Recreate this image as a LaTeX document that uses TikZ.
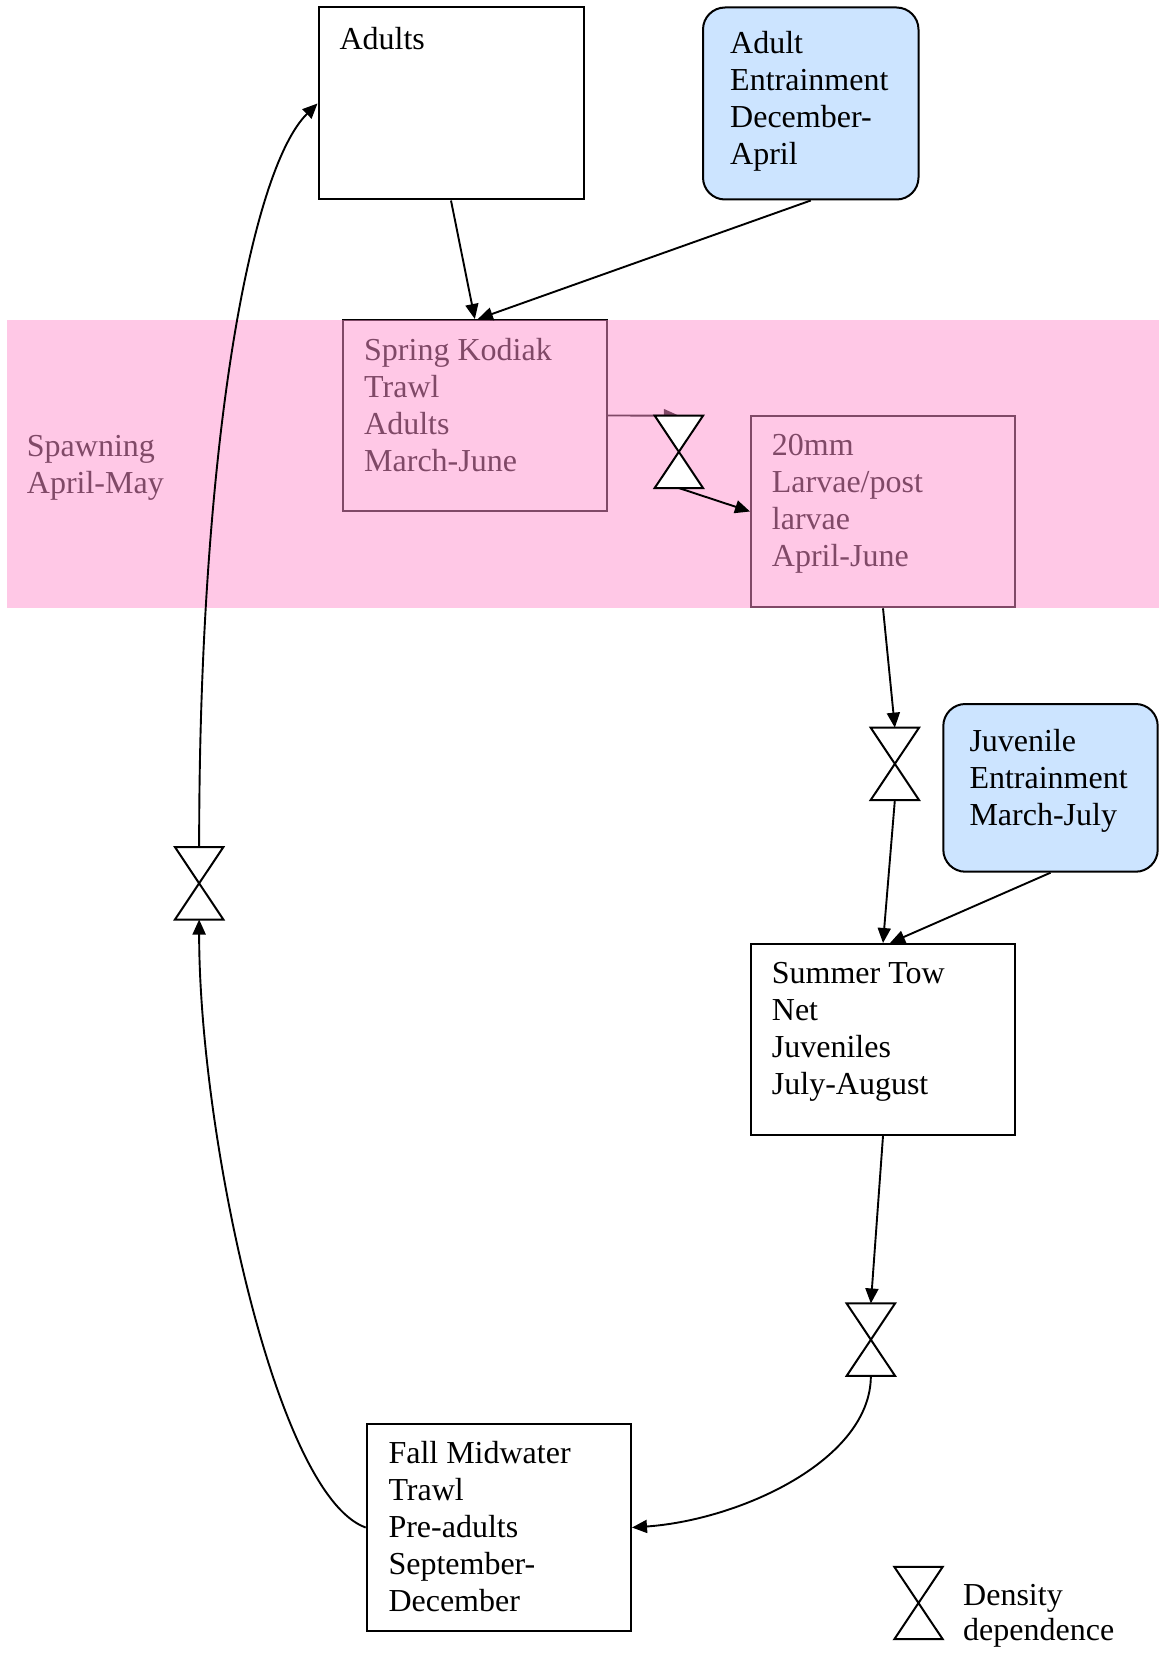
\documentclass[tikz,border=0pt]{standalone}
\usepackage{fontspec}
\setmainfont{Liberation Serif}
\usetikzlibrary{arrows.meta}
\definecolor{entblue}{RGB}{204,228,255}
\definecolor{bandpink}{RGB}{255,146,206}
\newcommand\hglass[1]{\draw[hgline] (#1.north west) -- (#1.north east) -- (#1.south west) -- (#1.south east) -- cycle;}
\begin{document}
\begin{tikzpicture}[x=1pt,y=-1pt,
  box/.style={draw, line width=2pt, inner sep=0pt},
  entbox/.style={box, fill=entblue, rounded corners=22pt},
  txt/.style={anchor=north west, inner sep=0pt, align=left, font=\fontsize{32}{37}\selectfont},
  arr/.style={line width=1.9pt, -{Triangle[length=15pt,width=13pt]}},
  hg/.style={minimum width=48pt, minimum height=72pt, inner sep=0pt},
  hgline/.style={line width=2pt, fill=white, line join=miter}]
\useasboundingbox (0,0) rectangle (1159,1653);

% boxes under the spawning band
\node (spring) [box, minimum width=264.3pt, minimum height=191pt] at (474.85,415.5) {};
\node (springT) [txt] at (364,334.1) {\strut Spring Kodiak\\Trawl\\Adults\\March-June};
\node (larvae) [box, minimum width=264pt, minimum height=191.6pt] at (883,511.5) {};
\node (larvaeT) [txt] at (771.7,429.1) {\strut 20mm\\Larvae/post\\larvae\\April-June};
\node (spawnT) [txt] at (26.7,430.1) {\strut Spawning\\April-May};
\node (hg1) [hg] at (678.85,451.85) {};
\draw[arr] (spring.east) -- (hg1.north);

% spawning band
\node (band) [fill=bandpink, fill opacity=0.5, minimum width=1152pt, minimum height=287.3pt,
  inner sep=0pt, anchor=north west] at (7,320) {};

\hglass{hg1}
\draw[arr] (hg1.south) -- (larvae.west);

% other boxes
\node (adults) [box, fill=white, minimum width=265pt, minimum height=192pt] at (451,103.5) {};
\node (adultsT) [txt] at (339.3,23.4) {\strut Adults};
\node (adultEnt) [entbox, minimum width=215.5pt, minimum height=192pt] at (810.75,103.5) {};
\node (adultEntT) [txt] at (730,27.4) {\strut Adult\\Entrainment\\December-\\April};
\node (juvEnt) [entbox, minimum width=214.4pt, minimum height=167.7pt] at (1050.5,787.85) {};
\node (juvEntT) [txt] at (969.3,725.1) {\strut Juvenile\\Entrainment\\March-July};
\node (summer) [box, fill=white, minimum width=264pt, minimum height=191pt] at (883,1039.5) {};
\node (summerT) [txt] at (771.7,957.4) {\strut Summer Tow\\Net\\Juveniles\\July-August};
\node (fall) [box, fill=white, minimum width=264.3pt, minimum height=207pt] at (498.85,1527.5) {};
\node (fallT) [txt] at (388.3,1437.4) {\strut Fall Midwater\\Trawl\\Pre-adults\\September-\\December};

% density dependence symbols
\node (hg2) [hg] at (894.85,763.85) {};
\node (hg3) [hg] at (870.85,1339.65) {};
\node (hg4) [hg] at (199.15,883.3) {};
\node (hg5) [hg] at (918.5,1603) {};

% connectors
\draw[arr] (adults.south) -- (spring.north);
\draw[arr] (adultEnt.south) -- ([xshift=3pt]spring.north);
\draw[arr] (larvae.south) -- (hg2.north);
\draw[arr] (hg2.south) -- (summer.north);
\draw[arr] (juvEnt.south) -- ([xshift=7pt]summer.north);
\draw[arr] (summer.south) -- (hg3.north);
\draw[arr] (hg3.south) .. controls (870.85,1460) and (740,1520) .. (fall.east);
\draw[arr] (fall.west) .. controls (275,1495) and (199,1130) .. (hg4.south);
\draw[arr] (hg4.north) .. controls (199,450) and (250,170) .. (adults.west);

\hglass{hg2}
\hglass{hg3}
\hglass{hg4}
\hglass{hg5}

% legend
\node (legendT) [txt, font=\fontsize{32}{35}\selectfont] at (963,1580.8) {\strut Density\\dependence};
\end{tikzpicture}
\end{document}
